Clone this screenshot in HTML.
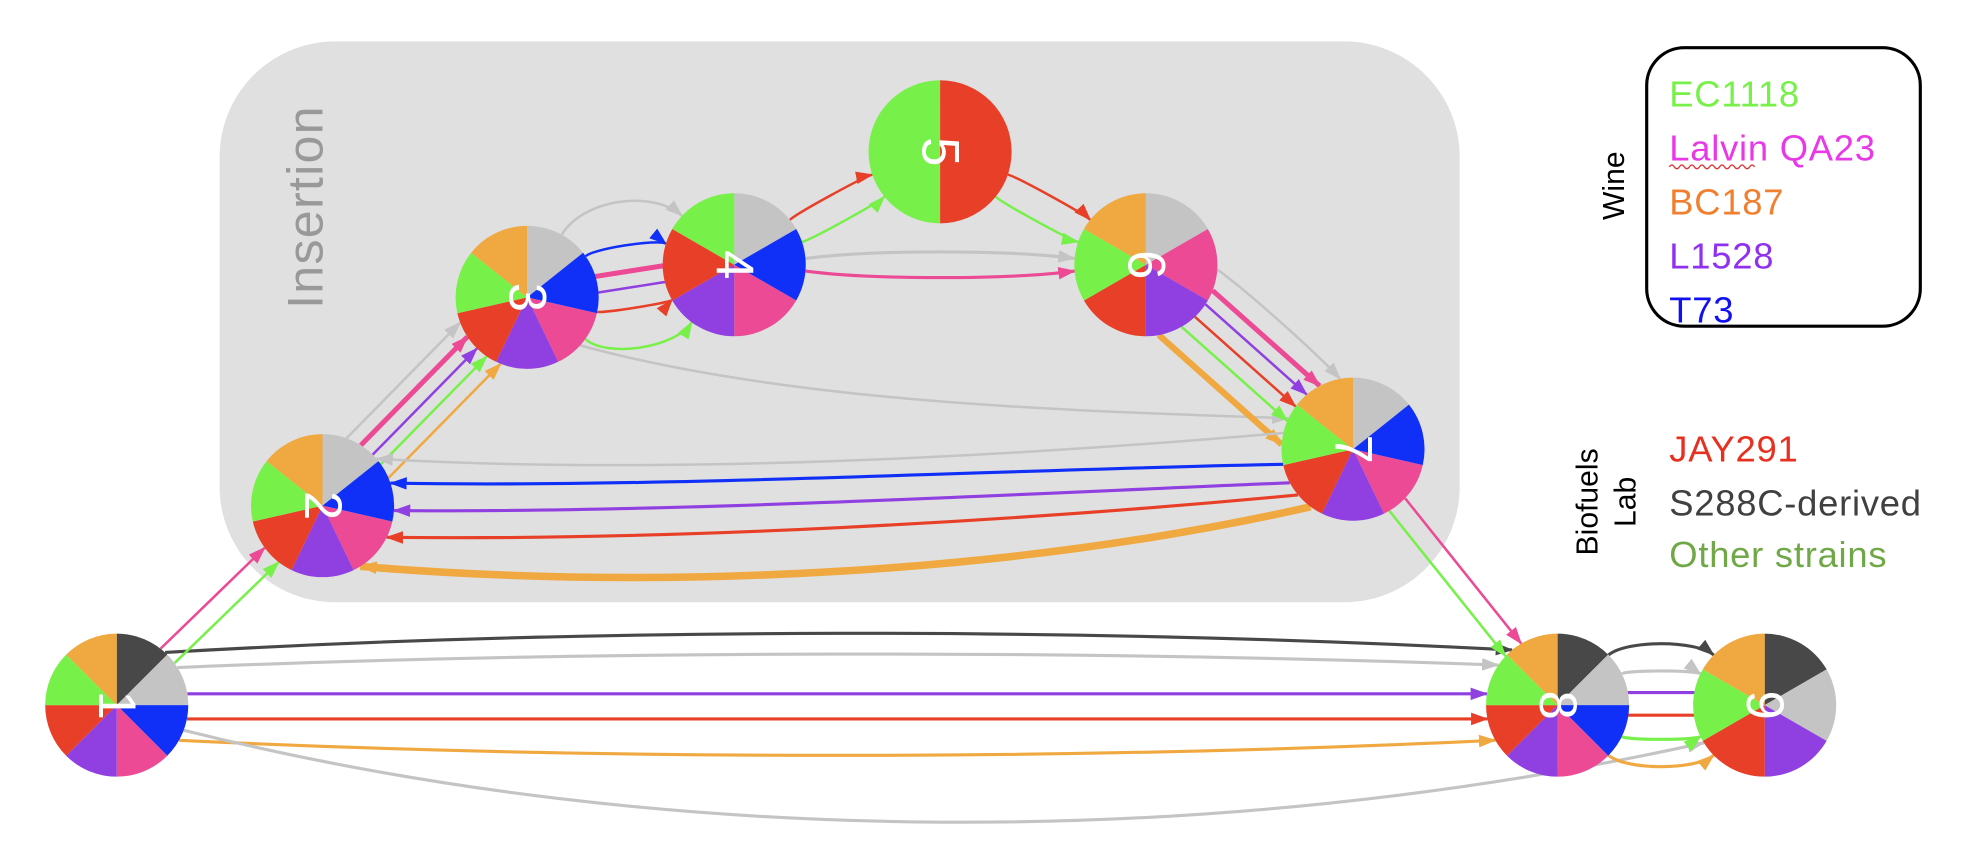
<!DOCTYPE html>
<html><head><meta charset="utf-8"><style>
html,body{margin:0;padding:0;background:#fff;}
svg{display:block;font-family:"Liberation Sans",sans-serif;}
</style></head><body>
<svg id="g" width="1968" height="862" viewBox="0 0 1568 687" preserveAspectRatio="none" xmlns="http://www.w3.org/2000/svg">
<defs id="defs"></defs>
<rect x="175" y="33" width="988" height="447" rx="92" fill="#e0e0e0"/>
<text transform="translate(257,165) rotate(-90)" text-anchor="middle" font-size="40" fill="#999" letter-spacing="1">Insertion</text>
<g id="edges"></g>
<g id="nodes"></g>
<rect x="1312" y="38" width="218" height="222" rx="30" fill="#fff" stroke="#000" stroke-width="2.5"/>
<text transform="translate(1294,148) rotate(-90)" text-anchor="middle" font-size="24" fill="#000">Wine</text>
<g font-size="29" letter-spacing="0.6">
<text x="1330" y="85" fill="#77F04A">EC1118</text>
<text x="1330" y="128" fill="#E838E8">Lalvin QA23</text>
<text x="1330" y="171" fill="#F08030">BC187</text>
<text x="1330" y="214" fill="#9030F0">L1528</text>
<text x="1330" y="257" fill="#1010F0">T73</text>
<text x="1330" y="368" fill="#E83020">JAY291</text>
<text x="1330" y="411" fill="#404040">S288C-derived</text>
<text x="1330" y="452" fill="#70A848">Other strains</text>
</g>
<path d="M1330,133 q2,-3 4,0 t4,0 t4,0 t4,0 t4,0 t4,0 t4,0 t4,0 t4,0 t4,0 t4,0 t4,0 t4,0 t4,0 t4,0 t4,0 t4,0" fill="none" stroke="#E03030" stroke-width="1"/>
<text transform="translate(1273,400) rotate(-90)" text-anchor="middle" font-size="24" fill="#000">Biofuels</text>
<text transform="translate(1303,400) rotate(-90)" text-anchor="middle" font-size="24" fill="#000">Lab</text>
</svg>
<script>
const NS="http://www.w3.org/2000/svg";
const COL={g:"#77F04A",r:"#E84028",p:"#EC4A94",u:"#9040E0",b:"#1030F8",o:"#F0A840",l:"#C4C4C4",d:"#484848"};
const nodeIds=[1,2,3,4,5,6,7,8,9];
const nodeX=[93,257,420,585,749,913,1078,1241,1406];
const nodeY=[562,403,237,211,121,211,358,562,562];
const nodeSlices=["dlbpurgo","lbpurgo","lbpurgo","lbpurg","rg","lpurgo","lbpurgo","dlbpurgo","dlurgo"];
const R=57;
// edges: from, to, color, width, s1, s2, c1, c2
const edgeFrom=[1,1,1,1,1,1, 1,1, 2,2,2,2,2, 3,3,3,3,3,3, 4,4, 5,5, 4,4, 3, 6,6,6,6,6,6, 7,7,7,7,7, 7,7, 8,8,8,8,8,8];
const edgeTo  =[8,8,8,8,8,9, 2,2, 3,3,3,3,3, 4,4,4,4,4,4, 5,5, 6,6, 6,6, 7, 7,7,7,7,7,7, 2,2,2,2,2, 8,8, 9,9,9,9,9,9];
const edgeCol ="dlurol"+"pg"+"lpugo"+"lbpurg"+"rg"+"rg"+"lp"+"l"+"lpurgo"+"lburo"+"gp"+"dlurgo";
const edgeW=[2.5,2.5,2.5,2.5,2.5,2.5, 2,2, 2,4,2,2,2, 2,2,4,2,2,2, 2,2, 2,2, 2.5,2.5, 2, 2,4,2,2,2,5, 2,2.5,2.5,2.5,6, 2,2, 2.5,2.5,2.5,2.5,2.5,2.5];
const edgeS1=[-42,-30,-9,11,28,20, -8,8, -24,-12,0,10,22, -45,-25,-8,5,20,40, -10,10, -10,10, -5,5, 30, -35,-20,-8,5,18,35, 16,-9,-24,-34,-44, 8,-8, -40,-25,-10,8,25,40];
const edgeS2=[-44,-32,-9,11,28,30, -8,8, -24,-12,0,10,22, -45,-25,-8,5,20,40, -10,10, -10,10, -5,5, -15, -35,-20,-8,5,18,35, 35,15,-7,-28,-50, 8,-8, -40,-25,-10,8,25,40];
const edgeC1=[-62,-44,-9,11,44,116, -8,8, -24,-12,0,10,22, -70,-30,-8,5,22,58, -12,12, -12,12, -12,12, 45, -38,-20,-8,5,18,35, 9,-1,-21,-43,-84, 8,-8, -52,-28,-10,8,28,52];
const edgeC2=[-62,-44,-9,11,44,116, -8,8, -24,-12,0,10,22, -70,-30,-8,5,22,58, -12,12, -12,12, -12,12, 10, -38,-20,-8,5,18,35, 9,-1,-21,-43,-84, 8,-8, -52,-28,-10,8,28,52];

const svg=document.getElementById("g"),defs=document.getElementById("defs"),eg=document.getElementById("edges"),ng=document.getElementById("nodes");
const made={};
function marker(c){
  if(made[c])return "m"+c;made[c]=1;
  const m=document.createElementNS(NS,"marker");
  m.setAttribute("id","m"+c);m.setAttribute("markerUnits","userSpaceOnUse");
  m.setAttribute("markerWidth","14");m.setAttribute("markerHeight","12");
  m.setAttribute("refX","13");m.setAttribute("refY","5");m.setAttribute("orient","auto");
  m.setAttribute("viewBox","0 0 14 10");
  const p=document.createElementNS(NS,"path");p.setAttribute("d","M0,0 L14,5 L0,10 z");p.setAttribute("fill",COL[c]);
  m.appendChild(p);defs.appendChild(m);return "m"+c;
}
for(let i=0;i<edgeFrom.length;i++){
  const a=edgeFrom[i]-1,b=edgeTo[i]-1;
  const ax=nodeX[a],ay=nodeY[a],bx=nodeX[b],by=nodeY[b];
  const L=Math.hypot(bx-ax,by-ay),dx=(bx-ax)/L,dy=(by-ay)/L,px=-dy,py=dx;
  const s1=Math.max(-54,Math.min(54,edgeS1[i])),s2=Math.max(-54,Math.min(54,edgeS2[i]));
  const h1=Math.sqrt(R*R-s1*s1),h2=Math.sqrt(R*R-s2*s2);
  const x0=ax+dx*h1+px*s1,y0=ay+dy*h1+py*s1;
  const x3=bx-dx*h2+px*s2,y3=by-dy*h2+py*s2;
  const x1=ax+(bx-ax)/3+px*edgeC1[i],y1=ay+(by-ay)/3+py*edgeC1[i];
  const x2=ax+2*(bx-ax)/3+px*edgeC2[i],y2=ay+2*(by-ay)/3+py*edgeC2[i];
  const c=edgeCol[i];
  const p=document.createElementNS(NS,"path");
  p.setAttribute("d",`M${x0},${y0} C${x1},${y1} ${x2},${y2} ${x3},${y3}`);
  p.setAttribute("fill","none");p.setAttribute("stroke",COL[c]);p.setAttribute("stroke-width",edgeW[i]);
  p.setAttribute("marker-end",`url(#${marker(c)})`);
  
  
  eg.appendChild(p);
}
for(let i=0;i<nodeIds.length;i++){
  const g=document.createElementNS(NS,"g");
  
  
  const s=nodeSlices[i],n=s.length,cx=nodeX[i],cy=nodeY[i];
  for(let k=0;k<n;k++){
    const t0=2*Math.PI*k/n,t1=2*Math.PI*(k+1)/n;
    const p=document.createElementNS(NS,"path");
    p.setAttribute("d",`M${cx},${cy} L${cx+R*Math.sin(t0)},${cy-R*Math.cos(t0)} A${R},${R} 0 0 1 ${cx+R*Math.sin(t1)},${cy-R*Math.cos(t1)} Z`);
    p.setAttribute("fill",COL[s[k]]);
    
    
    g.appendChild(p);
  }
  const t=document.createElementNS(NS,"text");
  t.setAttribute("transform",`translate(${cx},${cy}) rotate(90)`);
  t.setAttribute("text-anchor","middle");t.setAttribute("dy","14");
  t.setAttribute("font-size","42");t.setAttribute("fill","#fff");
  t.textContent=nodeIds[i];
  
  
  g.appendChild(t);ng.appendChild(g);
}
</script>
</body></html>
